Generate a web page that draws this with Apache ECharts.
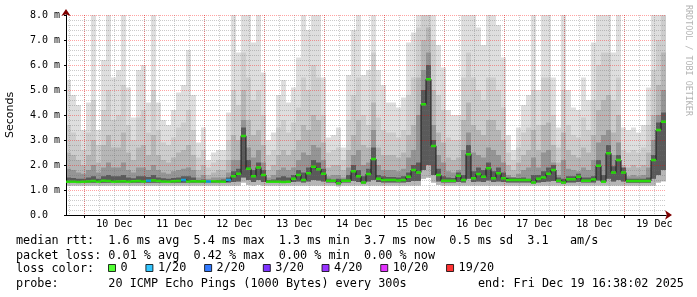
<!DOCTYPE html>
<html><head><meta charset="utf-8">
<script src="https://cdn.jsdelivr.net/npm/echarts@6/dist/echarts.min.js"></script>
<style>html,body{margin:0;padding:0;background:#fff}#c{width:697px;height:297px}</style>
</head><body><div id="c"></div>
<script>
// ---- time frame (hours since Tue Dec 09 16:38:02 2025) ----
const SPAN_HOURS = 240;
const BIN_HOURS = 2;
const FIRST_MIDNIGHT = 7 + 21/60 + 58/3600; // Dec 10 00:00
const dayLabels = ['10 Dec','11 Dec','12 Dec','13 Dec','14 Dec','15 Dec','16 Dec','17 Dec','18 Dec','19 Dec'];
const yTickLabels = ['0.0','1.0 m','2.0 m','3.0 m','4.0 m','5.0 m','6.0 m','7.0 m','8.0 m'];

// ---- smoke (ms), 2-hour bins ----
const pingMax = [5.4,4.8,4.4,3.4,
 4.5,8.0,3.4,6.2,8.0,5.5,5.8,8.0,5.1,3.9,5.8,6.0,
 4.5,8.0,4.5,3.8,3.6,4.2,4.9,5.2,6.6,4.8,2.9,3.5,
 2.2,2.5,2.6,2.6,4.1,8.0,6.5,8.0,8.0,6.9,8.0,5.7,
 3.0,3.3,4.8,5.4,4.5,5.1,6.3,8.0,7.4,8.0,8.0,5.5,
 3.1,3.2,3.5,2.7,5.6,7.4,8.0,5.6,5.8,8.0,5.8,5.2,
 4.5,4.5,4.3,4.7,6.9,7.3,8.0,8.0,8.0,8.0,6.8,5.9,
 4.2,4.0,4.0,8.0,8.0,8.0,7.5,6.8,8.0,8.0,7.6,6.3,
 3.2,2.6,3.5,4.4,4.8,8.0,5.0,8.0,8.0,5.5,3.5,8.0,
 5.0,4.3,4.2,5.5,4.6,6.9,8.0,8.0,8.0,6.5,8.0,3.5,
 3.4,3.5,3.3,3.6,5.1,8.0,8.0,8.0];
const pingHigh = [3.6,3.3,3.0,2.6,
 3.3,4.6,2.8,4.2,5.0,3.8,4.0,5.2,3.6,3.0,3.9,4.2,
 3.3,5.0,3.4,2.9,2.8,3.1,3.5,3.7,4.2,3.4,2.3,2.6,
 1.9,2.1,2.2,2.2,3.0,5.0,4.4,6.5,5.5,4.6,5.0,4.0,
 2.4,2.6,3.5,3.8,3.3,3.7,4.3,5.5,5.0,6.0,5.5,4.0,
 2.5,2.6,2.7,2.2,3.8,4.8,5.5,4.0,3.6,6.5,3.9,3.4,
 3.3,3.3,3.1,3.4,4.8,5.5,7.5,8.0,8.0,7.0,4.8,4.2,
 3.1,3.0,3.0,5.5,6.5,5.5,5.0,4.6,5.5,5.5,5.0,4.3,
 2.5,2.2,2.7,3.3,3.5,5.0,3.6,5.5,5.5,4.0,2.7,5.0,
 3.6,3.2,3.1,3.9,3.4,4.6,6.0,6.5,6.5,4.6,5.5,2.6,
 2.5,2.6,2.5,2.7,3.6,5.8,7.0,8.0];
const pingUpper = [2.5,2.4,2.2,2.0,
 2.4,3.0,2.1,2.8,3.2,2.7,2.7,3.3,2.5,2.2,2.7,2.8,
 2.4,3.2,2.4,2.2,2.1,2.3,2.5,2.6,2.8,2.4,1.8,2.0,
 1.6,1.7,1.8,1.8,2.2,3.2,3.0,5.0,3.8,3.2,3.4,2.8,
 1.8,2.0,2.4,2.6,2.4,2.6,3.0,3.6,3.4,4.0,3.8,2.9,
 1.9,2.0,2.0,1.8,2.6,3.2,3.8,2.8,2.7,4.5,2.7,2.4,
 2.4,2.4,2.3,2.5,3.2,3.6,5.5,7.0,7.5,5.0,3.3,2.9,
 2.3,2.2,2.3,3.8,4.5,3.6,3.4,3.2,3.8,3.8,3.4,3.0,
 2.0,1.8,2.1,2.4,2.6,3.4,2.6,3.6,3.7,2.8,2.1,3.3,
 2.6,2.4,2.3,2.7,2.5,3.2,4.2,4.6,4.8,3.3,4.0,2.0,
 1.9,2.0,1.9,2.0,2.5,4.0,5.2,6.5];
const pingMid = [1.85,1.8,1.7,1.65,
 1.8,2.0,1.7,1.9,2.1,1.9,1.9,2.1,1.8,1.7,1.9,1.9,
 1.8,2.0,1.8,1.7,1.65,1.75,1.8,1.85,1.9,1.8,1.5,1.6,
 1.45,1.5,1.5,1.5,1.7,2.2,2.2,3.8,2.7,2.3,2.6,2.1,
 1.5,1.6,1.8,1.9,1.8,1.9,2.2,2.5,2.4,2.8,2.7,2.2,
 1.55,1.6,1.6,1.5,1.9,2.4,2.6,2.0,2.1,3.4,2.0,1.8,
 1.8,1.8,1.75,1.85,2.3,2.6,4.0,5.8,6.5,3.6,2.4,2.1,
 1.75,1.7,1.8,2.6,3.3,2.5,2.4,2.3,2.7,2.6,2.4,2.1,
 1.6,1.5,1.65,1.8,1.9,2.3,1.9,2.5,2.6,2.1,1.6,2.2,
 1.85,1.8,1.75,1.9,1.8,2.2,2.9,3.2,3.4,2.4,2.9,1.6,
 1.55,1.6,1.55,1.6,1.9,3.0,4.0,5.0];
const pingInner = [1.5,1.48,1.45,1.45,
 1.5,1.55,1.45,1.55,1.6,1.55,1.55,1.6,1.5,1.47,1.55,1.55,
 1.52,1.6,1.5,1.47,1.45,1.48,1.5,1.55,1.55,1.5,1.4,1.42,
 1.38,1.4,1.4,1.42,1.5,1.75,1.85,3.5,2.2,1.8,2.1,1.8,
 1.4,1.42,1.5,1.55,1.5,1.6,1.8,1.7,1.9,2.2,2.1,1.85,
 1.45,1.42,1.45,1.43,1.6,2.0,1.8,1.55,1.85,2.7,1.6,1.55,
 1.52,1.52,1.5,1.55,1.7,2.0,2.1,5.0,6.0,3.0,1.85,1.55,
 1.5,1.48,1.7,1.6,2.8,1.75,1.9,1.8,2.1,1.75,1.9,1.7,
 1.5,1.5,1.48,1.5,1.45,1.6,1.6,1.75,1.9,2.0,1.5,1.45,
 1.55,1.55,1.65,1.5,1.5,1.55,2.2,1.6,2.8,1.95,2.4,1.9,
 1.45,1.45,1.45,1.45,1.5,2.4,3.7,4.1];
const innerFloor = [1.29,1.29,1.28,1.29,
 1.29,1.29,1.29,1.29,1.29,1.29,1.29,1.29,1.29,1.29,1.29,1.29,
 1.29,1.29,1.29,1.29,1.29,1.29,1.29,1.29,1.29,1.29,1.29,1.29,
 1.29,1.29,1.29,1.29,1.30,1.32,1.34,1.50,1.40,1.32,1.40,1.32,
 1.29,1.29,1.29,1.28,1.29,1.32,1.34,1.30,1.34,1.40,1.38,1.34,
 1.30,1.30,1.22,1.30,1.30,1.36,1.32,1.25,1.34,1.40,1.32,1.30,
 1.30,1.30,1.30,1.30,1.32,1.36,1.36,1.80,2.00,1.60,1.34,1.30,
 1.30,1.30,1.32,1.30,1.45,1.32,1.34,1.32,1.38,1.32,1.34,1.32,
 1.30,1.30,1.30,1.30,1.30,1.25,1.30,1.32,1.34,1.36,1.30,1.25,
 1.30,1.30,1.32,1.30,1.30,1.30,1.38,1.29,1.45,1.34,1.40,1.34,
 1.29,1.29,1.29,1.29,1.29,1.45,1.60,1.80];
const outerFloor = [1.18,1.18,1.18,1.18,
 1.18,1.18,1.18,1.18,1.18,1.18,1.18,1.18,1.18,1.18,1.18,1.18,
 1.18,1.18,1.18,1.18,1.18,1.18,1.18,1.18,1.18,1.18,1.18,1.18,
 1.18,1.18,1.18,1.18,1.18,1.18,1.18,1.30,1.20,1.18,1.20,1.18,
 1.18,1.18,1.18,1.18,1.18,1.18,1.18,1.18,1.18,1.18,1.18,1.18,
 1.18,1.18,1.15,1.18,1.18,1.18,1.18,1.18,1.18,1.18,1.18,1.18,
 1.18,1.18,1.18,1.18,1.18,1.18,1.18,1.45,1.50,1.30,1.20,1.18,
 1.18,1.18,1.18,1.18,1.18,1.18,1.18,1.18,1.18,1.18,1.18,1.18,
 1.18,1.18,1.18,1.18,1.18,1.18,1.18,1.18,1.18,1.18,1.18,1.18,
 1.18,1.18,1.18,1.18,1.18,1.18,1.18,1.18,1.18,1.18,1.18,1.18,
 1.18,1.18,1.18,1.18,1.18,1.18,1.30,1.35];
const medianRtt = [1.33,1.33,1.32,1.33,
 1.34,1.36,1.33,1.37,1.36,1.33,1.34,1.35,1.33,1.35,1.36,1.34,
 1.37,1.38,1.36,1.34,1.33,1.35,1.36,1.40,1.34,1.35,1.34,1.35,
 1.34,1.35,1.34,1.33,1.40,1.55,1.65,3.16,1.85,1.55,1.90,1.60,
 1.33,1.33,1.33,1.32,1.33,1.45,1.60,1.40,1.67,1.93,1.83,1.65,
 1.37,1.37,1.27,1.37,1.37,1.75,1.55,1.30,1.64,2.24,1.45,1.40,
 1.40,1.40,1.38,1.40,1.53,1.80,1.70,4.43,5.43,2.76,1.60,1.37,
 1.37,1.37,1.57,1.40,2.43,1.47,1.64,1.53,1.87,1.47,1.67,1.47,
 1.40,1.40,1.40,1.40,1.40,1.30,1.45,1.50,1.65,1.80,1.37,1.30,
 1.43,1.43,1.53,1.37,1.37,1.42,1.97,1.33,2.47,1.70,2.20,1.70,
 1.36,1.36,1.36,1.36,1.36,2.20,3.40,3.73];
const lossCount = [0,0,0,0,
 0,0,0,0,0,0,0,0,0,0,0,0,
 1,0,0,0,0,0,0,1,0,0,0,0,
 1,0,0,0,1,0,0,0,0,0,0,0,
 0,0,0,0,0,0,0,0,0,0,0,0,
 0,0,0,0,0,0,0,0,0,0,0,0,
 0,0,0,0,0,0,0,0,0,0,0,0,
 0,0,0,0,0,0,0,0,0,0,0,0,
 0,0,0,0,0,0,0,0,0,0,0,0,
 0,0,0,0,0,0,0,0,0,0,0,0,
 0,0,0,0,0,0,0,0];
const lossLevels = [0,1,2,3,4,10,19];
const lossNames = ['0','1/20','2/20','3/20','4/20','10/20','19/20'];
const lossColors = ['#26ff00','#00b8ff','#0059ff','#5e00ff','#7e00ff','#dd00ff','#ff0000'];

// ---- text ----
const MONO = "'DejaVu Sans Mono', monospace";
const FS = 11.8;
const AXFS = 10;
const line1 = 'median rtt:  1.6 ms avg  5.4 ms max  1.3 ms min  3.7 ms now  0.5 ms sd  3.1   am/s';
const line2 = 'packet loss: 0.01 % avg  0.42 % max  0.00 % min  0.00 % now';
const line3 = 'loss color:';
const line4 = 'probe:       20 ICMP Echo Pings (1000 Bytes) every 300s';
const line4r = 'end: Fri Dec 19 16:38:02 2025';
const watermark = 'RRDTOOL / TOBI OETIKER';

// ---- derived axis positions ----
const dayBoundaryHours = dayLabels.map((_, k) => FIRST_MIDNIGHT + 24 * k);
const noonHours = dayLabels.map((_, k) => FIRST_MIDNIGHT + 12 + 24 * k);
const sixHourHours = [];
for (let h = FIRST_MIDNIGHT - 6; h < SPAN_HOURS; h += 6) sixHourHours.push(h);

const binStart = pingMax.map((_, i) => i * BIN_HOURS);
function stepData(vals) {
  const d = vals.map((v, i) => [binStart[i], v]);
  d.push([SPAN_HOURS, vals[vals.length - 1]]);
  return d;
}
function bucketOf(c) { let b = 0; lossLevels.forEach((l, j) => { if (c >= l) b = j; }); return b; }

const bands = [
  { top: pingMax,   floor: outerFloor, color: '#dedede' },
  { top: pingHigh,  floor: outerFloor, color: '#cdcdcd' },
  { top: pingUpper, floor: outerFloor, color: '#b6b6b6' },
  { top: pingMid,   floor: innerFloor, color: '#959595' },
  { top: pingInner, floor: innerFloor, color: '#5a5a5a' }
];

const series = [];
bands.forEach((b) => {
  series.push({
    type: 'custom', silent: true, z: 2, clip: true,
    encode: { x: [0, 1], y: [2, 3] },
    data: b.top.map((t, i) => [binStart[i], binStart[i] + BIN_HOURS, b.floor[i], t]),
    renderItem: (params, api) => {
      const a = api.coord([api.value(0), api.value(3)]);
      const c = api.coord([api.value(1), api.value(2)]);
      return { type: 'rect', shape: { x: a[0], y: a[1], width: c[0] - a[0], height: c[1] - a[1] },
        style: { fill: b.color } };
    }
  });
});
series.push({ type: 'line', name: 'median', data: stepData(medianRtt), step: 'end', symbol: 'none',
  lineStyle: { color: '#1a1a1a', width: 1 }, z: 10, silent: true });
lossLevels.forEach((lvl, j) => {
  const data = [];
  medianRtt.forEach((m, i) => { if (bucketOf(lossCount[i]) === j) data.push([binStart[i] + BIN_HOURS / 2, m]); });
  series.push({ type: 'scatter', name: lossNames[j], data, symbol: 'rect', symbolSize: [5, 2.5],
    itemStyle: { color: lossColors[j] }, z: 11, silent: true });
});

const gridRed = 'rgba(255,0,0,0.36)';
const gridGray = 'rgba(110,110,110,0.36)';

const option = {
  animation: false,
  backgroundColor: '#ffffff',
  grid: { left: 66, right: 31, top: 15, bottom: 82, containLabel: false, outerBoundsMode: 'none' },
  xAxis: [
    { type: 'value', min: 0, max: SPAN_HOURS, position: 'bottom', z: 6,
      axisLine: { show: true, onZero: false, lineStyle: { color: '#000', width: 1 } },
      axisTick: { show: true, customValues: dayBoundaryHours, length: 3, lineStyle: { color: '#000' } },
      axisLabel: { customValues: noonHours, margin: 4, color: '#000', fontFamily: MONO, fontSize: AXFS,
        formatter: v => dayLabels[noonHours.findIndex(h => Math.abs(h - v) < 1e-6)] || '' },
      splitLine: { show: true, lineStyle: { color: gridRed, type: [1, 1], width: 1 } } },
    { type: 'value', min: 0, max: SPAN_HOURS, position: 'top', z: 5,
      axisLine: { show: false }, axisLabel: { show: false },
      axisTick: { show: false, customValues: sixHourHours },
      splitLine: { show: true, lineStyle: { color: gridGray, type: [1, 1], width: 1 } } },
    { type: 'value', min: 0, max: SPAN_HOURS, position: 'bottom', z: 4,
      axisLine: { show: true, onZero: false, symbol: ['none', 'arrow'], symbolSize: [7, 7], symbolOffset: [0, 6],
        lineStyle: { color: '#7f0000', width: 1 } },
      axisTick: { show: false }, axisLabel: { show: false }, splitLine: { show: false } }
  ],
  yAxis: [
    { type: 'value', min: 0, max: 8, interval: 1, position: 'left', z: 6,
      name: 'Seconds', nameLocation: 'middle', nameGap: 50,
      nameTextStyle: { color: '#000', fontFamily: "'DejaVu Sans', sans-serif", fontSize: 11 },
      axisLine: { show: true, onZero: false, lineStyle: { color: '#000', width: 1 } },
      axisTick: { show: true, length: 2, lineStyle: { color: '#000' } },
      axisLabel: { align: 'left', margin: 36, color: '#000', fontFamily: MONO, fontSize: AXFS,
        formatter: v => yTickLabels[Math.round(v)] },
      splitLine: { show: true, lineStyle: { color: gridRed, type: [1, 1], width: 1 } },
      minorTick: { show: false, splitNumber: 5 },
      minorSplitLine: { show: true, lineStyle: { color: gridGray, type: [1, 1], width: 1 } } },
    { type: 'value', min: 0, max: 8, interval: 1, position: 'left', z: 4,
      axisLine: { show: true, onZero: false, symbol: ['none', 'arrow'], symbolSize: [7, 7], symbolOffset: [0, 6],
        lineStyle: { color: '#7f0000', width: 1 } },
      axisTick: { show: false }, axisLabel: { show: false }, splitLine: { show: false } }
  ],
  legend: {
    data: lossNames, left: 108, top: 262, padding: 0, itemGap: 17.8, itemWidth: 7, itemHeight: 7,
    icon: 'rect', selectedMode: false,
    itemStyle: { borderColor: '#000', borderWidth: 1 },
    textStyle: { color: '#000', fontFamily: MONO, fontSize: FS }
  },
  graphic: [
    { type: 'text', x: 16, y: 241, style: { text: line1, font: FS + 'px ' + MONO, fill: '#000', verticalAlign: 'middle' } },
    { type: 'text', x: 16, y: 255.5, style: { text: line2, font: FS + 'px ' + MONO, fill: '#000', verticalAlign: 'middle' } },
    { type: 'text', x: 16, y: 269, style: { text: line3, font: FS + 'px ' + MONO, fill: '#000', verticalAlign: 'middle' } },
    { type: 'text', x: 16, y: 284, style: { text: line4, font: FS + 'px ' + MONO, fill: '#000', verticalAlign: 'middle' } },
    { type: 'text', x: 478, y: 284, style: { text: line4r, font: FS + 'px ' + MONO, fill: '#000', verticalAlign: 'middle' } },
    { type: 'text', x: 688, y: 5, rotation: -Math.PI / 2,
      style: { text: watermark, font: "8.4px " + MONO, fill: '#b4b4b4', textAlign: 'left', verticalAlign: 'middle' } }
  ],
  series
};
const chart = echarts.init(document.getElementById('c'));
chart.setOption(option);
</script></body></html>
